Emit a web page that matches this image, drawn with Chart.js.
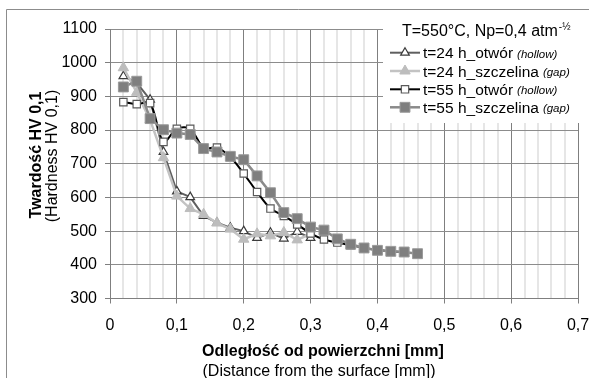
<!DOCTYPE html>
<html>
<head>
<meta charset="utf-8">
<script src="https://cdn.jsdelivr.net/npm/chart.js@4/dist/chart.umd.min.js"></script>
<style>
  html, body { margin: 0; padding: 0; background: #fff; }
</style>
</head>
<body>
<canvas id="hardness" width="589" height="378"></canvas>
<script>
// depth from the surface [mm] and hardness HV 0,1
const depth24 = [0.02, 0.04, 0.06, 0.08, 0.10, 0.12, 0.14, 0.16, 0.18, 0.20, 0.22, 0.24, 0.26, 0.28, 0.30];
const hv24Hollow = [960, 940, 890, 735, 618, 601, 545, 525, 510, 500, 480, 495, 478, 498, 480];
const hv24Gap = [985, 912, 830, 718, 604, 567, 550, 524, 506, 476, 492, 486, 496, 474, 492];

const depth55Hollow = [0.02, 0.04, 0.06, 0.08, 0.10, 0.12, 0.14, 0.16, 0.18, 0.20, 0.22,
                       0.24, 0.26, 0.28, 0.30, 0.32, 0.34, 0.36, 0.38, 0.40, 0.42, 0.44];
const hv55Hollow = [883, 877, 880, 765, 804, 804, 747, 748, 720, 671, 616,
                    567, 545, 520, 493, 475, 466, 458, 450, 444, 440, 437];

const depth55Gap = [0.02, 0.04, 0.06, 0.08, 0.10, 0.12, 0.14, 0.16, 0.18, 0.20, 0.22, 0.24,
                    0.26, 0.28, 0.30, 0.32, 0.34, 0.36, 0.38, 0.40, 0.42, 0.44, 0.46];
const hv55Gap = [928, 945, 834, 801, 791, 787, 745, 735, 722, 712, 664, 614,
                 555, 537, 512, 503, 477, 461, 450, 443, 440, 438, 433];

const seriesNames = ["t=24 h_otwór", "t=24 h_szczelina", "t=55 h_otwór", "t=55 h_szczelina"];
const seriesNotes = ["(hollow)", "(gap)", "(hollow)", "(gap)"];
const legendTitle = "T=550°C, Np=0,4 atm";
const legendSup = "-\u00bd";
const yTitle = ["Twardość HV 0,1", "(Hardness HV 0,1)"];
const xTitle = ["Odległość od powierzchni [mm]", "(Distance from the surface [mm])"];

const FONT = "'Liberation Sans', Arial, sans-serif";
Chart.defaults.font.family = FONT;

const toPoints = (xs, ys) => xs.map((x, i) => ({ x: x, y: ys[i] }));

const datasets = [
    {
        label: seriesNames[0],
        data: toPoints(depth24, hv24Hollow),
        borderColor: "#5f5f5f",
        borderWidth: 2,
        pointStyle: "triangle",
        pointRadius: 5,
        pointBackgroundColor: "#fff",
        pointBorderColor: "#3c3c3c",
        pointBorderWidth: 1.2,
        order: 4
    },
    {
        label: seriesNames[1],
        data: toPoints(depth24, hv24Gap),
        borderColor: "#c3c3c3",
        borderWidth: 2.5,
        pointStyle: "triangle",
        pointRadius: 6,
        pointBackgroundColor: "#bdbdbd",
        pointBorderColor: "#bdbdbd",
        pointBorderWidth: 1,
        order: 3
    },
    {
        label: seriesNames[2],
        data: toPoints(depth55Hollow, hv55Hollow),
        borderColor: "#000",
        borderWidth: 2,
        tension: 0.3,
        pointStyle: "rect",
        pointRadius: 5.2,
        pointBackgroundColor: "#fff",
        pointBorderColor: "#5a5a5a",
        pointBorderWidth: 1.2,
        order: 2
    },
    {
        label: seriesNames[3],
        data: toPoints(depth55Gap, hv55Gap),
        borderColor: "#8a8a8a",
        borderWidth: 2.5,
        pointStyle: "rect",
        pointRadius: 7,
        pointBackgroundColor: "#7f7f7f",
        pointBorderColor: "#9a9a9a",
        pointBorderWidth: 1,
        order: 1
    }
];

// frame, axis titles and the legend box are painted on the canvas
const overlay = {
    id: "overlay",
    beforeDraw(chart) {
        const ctx = chart.ctx;
        ctx.save();
        ctx.fillStyle = "#fff";
        ctx.fillRect(0, 0, chart.width, chart.height);
        ctx.restore();
    },
    afterDraw(chart) {
        const ctx = chart.ctx;
        ctx.save();

        ctx.strokeStyle = "#8c8c8c";
        ctx.lineWidth = 1;
        ctx.beginPath();
        ctx.moveTo(6.5, 400);
        ctx.lineTo(6.5, 9.5);
        ctx.lineTo(620, 9.5);
        ctx.stroke();

        ctx.fillStyle = "#000";
        ctx.textAlign = "center";
        ctx.textBaseline = "alphabetic";

        // y title
        ctx.save();
        ctx.translate(41, 155);
        ctx.rotate(-Math.PI / 2);
        ctx.font = "bold 16px " + FONT;
        ctx.fillText(yTitle[0], 0, 0);
        ctx.restore();
        ctx.save();
        ctx.translate(57, 156);
        ctx.rotate(-Math.PI / 2);
        ctx.font = "16px " + FONT;
        ctx.fillText(yTitle[1], 0, 0);
        ctx.restore();

        // x title
        ctx.font = "bold 16px " + FONT;
        ctx.fillText(xTitle[0], 323, 356);
        ctx.font = "16px " + FONT;
        ctx.fillText(xTitle[1], 319, 376);

        // legend
        ctx.fillStyle = "#fff";
        ctx.fillRect(383, 20, 210, 103);
        ctx.fillStyle = "#000";
        ctx.textAlign = "left";
        ctx.font = "16px " + FONT;
        ctx.fillText(legendTitle, 402, 36);
        const tw = ctx.measureText(legendTitle).width;
        ctx.font = "10px " + FONT;
        ctx.fillText(legendSup, 402 + tw + 1, 30);

        const rows = [52.7, 71, 89.3, 107.3];
        datasets.forEach((ds, i) => {
            const y = rows[i];
            ctx.strokeStyle = ds.borderColor;
            ctx.lineWidth = ds.borderWidth;
            ctx.beginPath();
            ctx.moveTo(390, y);
            ctx.lineTo(420, y);
            ctx.stroke();
            ctx.fillStyle = ds.pointBackgroundColor;
            ctx.strokeStyle = ds.pointBorderColor;
            ctx.lineWidth = ds.pointBorderWidth;
            Chart.helpers.drawPoint(ctx, {
                pointStyle: ds.pointStyle,
                radius: ds.pointRadius,
                rotation: 0,
                borderWidth: ds.pointBorderWidth
            }, 405, y);
            ctx.fillStyle = "#000";
            ctx.font = "15.5px " + FONT;
            ctx.fillText(ds.label, 423, y + 5.6);
            const w = ctx.measureText(ds.label).width;
            ctx.font = "italic 11.5px " + FONT;
            ctx.fillText(seriesNotes[i], 423 + w + 4, y + 5);
        });

        ctx.restore();
    }
};

const major = c => c.index % 5 === 0;

const config = {
    type: "line",
    data: { datasets: datasets },
    options: {
        responsive: false,
        animation: false,
        layout: { padding: { top: 29, right: 0, bottom: 0, left: 0 } },
        plugins: {
            legend: { display: false },
            tooltip: { enabled: false }
        },
        scales: {
            x: {
                type: "linear",
                min: 0,
                max: 0.7,
                ticks: {
                    stepSize: 0.02,
                    autoSkip: false,
                    maxRotation: 0,
                    padding: 12,
                    color: "#000",
                    font: { size: 16 },
                    callback: (v, i) => i % 5 === 0 ? (i === 0 ? "0" : v.toFixed(1).replace(".", ",")) : ""
                },
                grid: {
                    color: c => major(c) ? "#7f7f7f" : "#e6e6e6",
                    lineWidth: c => major(c) ? 1 : 2,
                    tickLength: 5,
                    tickColor: c => major(c) ? "#7f7f7f" : "rgba(0,0,0,0)"
                },
                border: { color: "#7f7f7f" },
                afterFit: s => {
                    s.height = 79.5;
                    s.paddingLeft = 0;
                    s.paddingRight = 11;
                }
            },
            y: {
                min: 300,
                max: 1100,
                ticks: {
                    stepSize: 100,
                    padding: 8,
                    color: "#000",
                    font: { size: 16 },
                    callback: v => String(v)
                },
                grid: {
                    color: "#8c8c8c",
                    tickLength: 5,
                    tickColor: "#7f7f7f"
                },
                border: { color: "#7f7f7f" },
                afterFit: s => { s.width = 110; }
            }
        }
    },
    plugins: [overlay]
};

new Chart(document.getElementById("hardness").getContext("2d"), config);
</script>
</body>
</html>
